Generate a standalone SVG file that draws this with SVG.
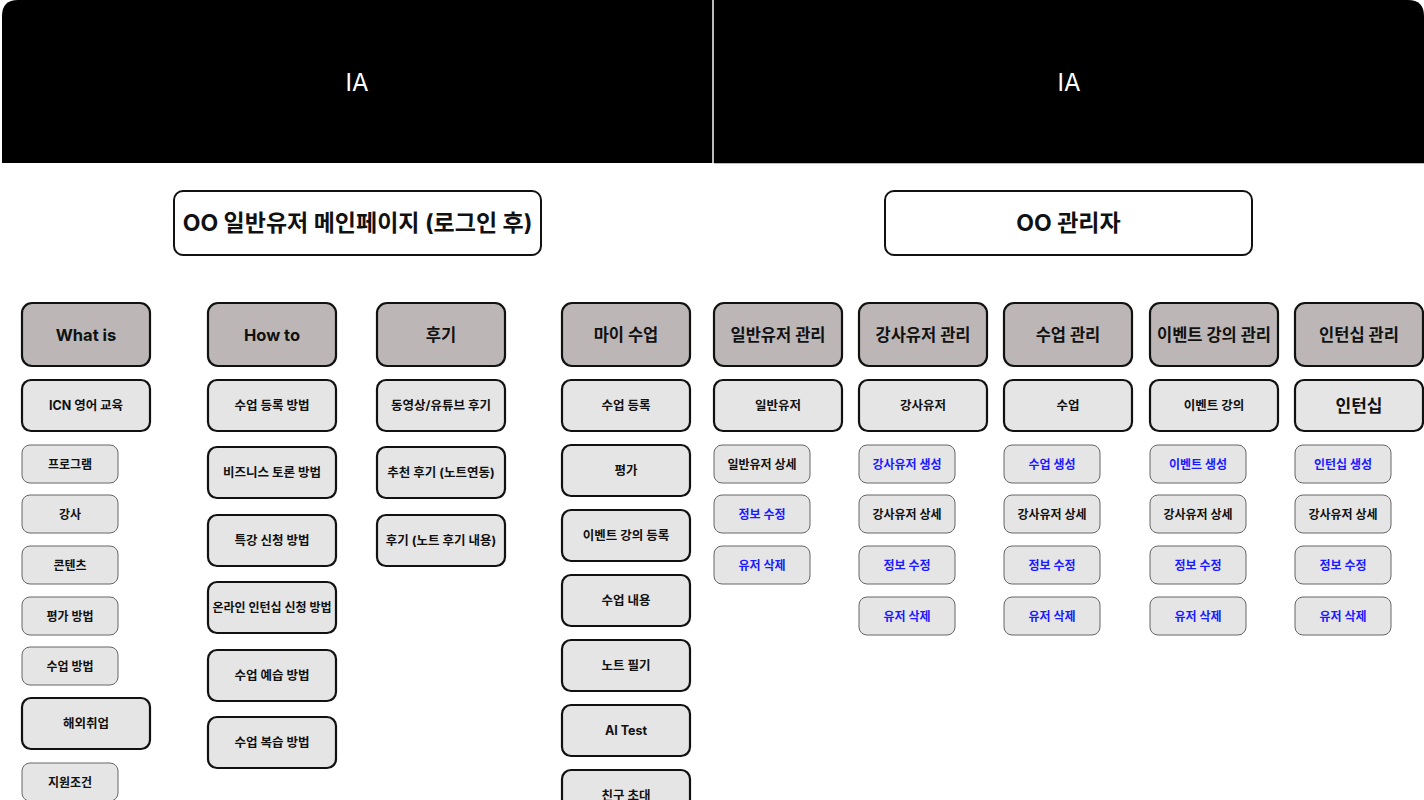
<svg xmlns="http://www.w3.org/2000/svg" width="1424" height="800" viewBox="0 0 1424 800">
<style>
text{font-family:Inter,"Noto Sans CJK KR",sans-serif;font-weight:700;fill:#111;text-anchor:middle;dominant-baseline:central}
.ia{fill:#fff;font-weight:400;font-size:24px}
.title rect{fill:#fff;stroke:#111;stroke-width:2}
.title text{font-size:23px}
.cat rect{fill:#bcb7b6;stroke:#111;stroke-width:2.2}
.cat text{font-size:16.5px}
.sub rect{fill:#e5e5e5;stroke:#111;stroke-width:2.2}
.sub text{font-size:12.5px}
.leaf rect{fill:#e5e5e5;stroke:#666;stroke-width:1}
.leaf text{font-size:12px}
.blue text{fill:#1a1aff}
</style>
<rect width="1424" height="800" fill="#fff"/>
<g id="header">
<path d="M2 163V16Q2 0 18 0H712V163Z" fill="#000"/>
<path d="M714 0H1408Q1424 0 1424 16V163H714Z" fill="#000"/>
<line x1="713" y1="0" x2="713" y2="163" stroke="#777" stroke-width="1"/>
<line x1="714" y1="163.5" x2="1424" y2="163.5" stroke="#bbb" stroke-width="1"/>
<text class="ia" x="357" y="82">IA</text>
<text class="ia" x="1069" y="82">IA</text>
</g>
<g id="title-user" class="title"><rect x="174" y="191" width="367" height="64" rx="9"/><text x="357.5" y="223">OO 일반유저 메인페이지 (로그인 후)</text></g>
<g id="title-admin" class="title"><rect x="885" y="191" width="367" height="64" rx="9"/><text x="1068.5" y="223">OO 관리자</text></g>
<g id="connectors"></g>
<g id="cat-whatis" class="cat"><rect x="22" y="303" width="128" height="63" rx="10"/><text x="86" y="334.5">What is</text></g>
<g id="cat-howto" class="cat"><rect x="208" y="303" width="128" height="63" rx="10"/><text x="272" y="334.5">How to</text></g>
<g id="cat-review" class="cat"><rect x="377" y="303" width="128" height="63" rx="10"/><text x="441" y="334.5">후기</text></g>
<g id="cat-my" class="cat"><rect x="562" y="303" width="128" height="63" rx="10"/><text x="626" y="334.5">마이 수업</text></g>
<g id="cat-user" class="cat"><rect x="714" y="303" width="128" height="63" rx="10"/><text x="778" y="334.5">일반유저 관리</text></g>
<g id="cat-teacher" class="cat"><rect x="859" y="303" width="128" height="63" rx="10"/><text x="923" y="334.5">강사유저 관리</text></g>
<g id="cat-class" class="cat"><rect x="1004" y="303" width="128" height="63" rx="10"/><text x="1068" y="334.5">수업 관리</text></g>
<g id="cat-event" class="cat"><rect x="1150" y="303" width="128" height="63" rx="10"/><text x="1214" y="334.5">이벤트 강의 관리</text></g>
<g id="cat-intern" class="cat"><rect x="1295" y="303" width="128" height="63" rx="10"/><text x="1359" y="334.5">인턴십 관리</text></g>

<g id="icn" class="sub"><rect x="22" y="380" width="128" height="51" rx="9"/><text x="86" y="405.5">ICN 영어 교육</text></g>
<g id="program" class="leaf"><rect x="22" y="445" width="96" height="38" rx="8"/><text x="70" y="464">프로그램</text></g>
<g id="teacher" class="leaf"><rect x="22" y="495" width="96" height="38" rx="8"/><text x="70" y="514">강사</text></g>
<g id="contents" class="leaf"><rect x="22" y="546" width="96" height="38" rx="8"/><text x="70" y="565">콘텐츠</text></g>
<g id="eval-method" class="leaf"><rect x="22" y="597" width="96" height="38" rx="8"/><text x="70" y="616">평가 방법</text></g>
<g id="class-method" class="leaf"><rect x="22" y="647" width="96" height="38" rx="8"/><text x="70" y="666">수업 방법</text></g>
<g id="overseas" class="sub"><rect x="22" y="698" width="128" height="51" rx="9"/><text x="86" y="723.5">해외취업</text></g>
<g id="condition" class="leaf"><rect x="22" y="763" width="96" height="38" rx="8"/><text x="70" y="782">지원조건</text></g>

<g id="how1" class="sub"><rect x="208" y="380" width="128" height="51" rx="9"/><text x="272" y="405.5">수업 등록 방법</text></g>
<g id="how2" class="sub"><rect x="208" y="447" width="128" height="51" rx="9"/><text x="272" y="472.5">비즈니스 토론 방법</text></g>
<g id="how3" class="sub"><rect x="208" y="515" width="128" height="51" rx="9"/><text x="272" y="540.5">특강 신청 방법</text></g>
<g id="how4" class="sub"><rect x="208" y="582" width="128" height="51" rx="9"/><text x="272" y="607.5" style="font-size:12px">온라인 인턴십 신청 방법</text></g>
<g id="how5" class="sub"><rect x="208" y="650" width="128" height="51" rx="9"/><text x="272" y="675.5">수업 예습 방법</text></g>
<g id="how6" class="sub"><rect x="208" y="717" width="128" height="51" rx="9"/><text x="272" y="742.5">수업 복습 방법</text></g>

<g id="rev1" class="sub"><rect x="377" y="380" width="128" height="51" rx="9"/><text x="441" y="405.5">동영상/유튜브 후기</text></g>
<g id="rev2" class="sub"><rect x="377" y="447" width="128" height="51" rx="9"/><text x="441" y="472.5">추천 후기 (노트연동)</text></g>
<g id="rev3" class="sub"><rect x="377" y="515" width="128" height="51" rx="9"/><text x="441" y="540.5">후기 (노트 후기 내용)</text></g>

<g id="my1" class="sub"><rect x="562" y="380" width="128" height="51" rx="9"/><text x="626" y="405.5">수업 등록</text></g>
<g id="my2" class="sub"><rect x="562" y="445" width="128" height="51" rx="9"/><text x="626" y="470.5">평가</text></g>
<g id="my3" class="sub"><rect x="562" y="510" width="128" height="51" rx="9"/><text x="626" y="535.5">이벤트 강의 등록</text></g>
<g id="my4" class="sub"><rect x="562" y="575" width="128" height="51" rx="9"/><text x="626" y="600.5">수업 내용</text></g>
<g id="my5" class="sub"><rect x="562" y="640" width="128" height="51" rx="9"/><text x="626" y="665.5">노트 필기</text></g>
<g id="my6" class="sub"><rect x="562" y="705" width="128" height="51" rx="9"/><text x="626" y="730.5">AI Test</text></g>
<g id="my7" class="sub"><rect x="562" y="770" width="128" height="51" rx="9"/><text x="626" y="795.5">친구 초대</text></g>

<g id="user-sub" class="sub"><rect x="714" y="380" width="128" height="51" rx="9"/><text x="778" y="405.5">일반유저</text></g>
<g id="user-detail" class="leaf"><rect x="714" y="445" width="96" height="38" rx="8"/><text x="762" y="464">일반유저 상세</text></g>
<g id="user-edit" class="leaf blue"><rect x="714" y="495" width="96" height="38" rx="8"/><text x="762" y="514">정보 수정</text></g>
<g id="user-del" class="leaf blue"><rect x="714" y="546" width="96" height="38" rx="8"/><text x="762" y="565">유저 삭제</text></g>

<g id="teacher-sub" class="sub"><rect x="859" y="380" width="128" height="51" rx="9"/><text x="923" y="405.5">강사유저</text></g>
<g id="teacher-create" class="leaf blue"><rect x="859" y="445" width="96" height="38" rx="8"/><text x="907" y="464">강사유저 생성</text></g>
<g id="teacher-detail" class="leaf"><rect x="859" y="495" width="96" height="38" rx="8"/><text x="907" y="514">강사유저 상세</text></g>
<g id="teacher-edit" class="leaf blue"><rect x="859" y="546" width="96" height="38" rx="8"/><text x="907" y="565">정보 수정</text></g>
<g id="teacher-del" class="leaf blue"><rect x="859" y="597" width="96" height="38" rx="8"/><text x="907" y="616">유저 삭제</text></g>

<g id="class-sub" class="sub"><rect x="1004" y="380" width="128" height="51" rx="9"/><text x="1068" y="405.5">수업</text></g>
<g id="class-create" class="leaf blue"><rect x="1004" y="445" width="96" height="38" rx="8"/><text x="1052" y="464">수업 생성</text></g>
<g id="class-detail" class="leaf"><rect x="1004" y="495" width="96" height="38" rx="8"/><text x="1052" y="514">강사유저 상세</text></g>
<g id="class-edit" class="leaf blue"><rect x="1004" y="546" width="96" height="38" rx="8"/><text x="1052" y="565">정보 수정</text></g>
<g id="class-del" class="leaf blue"><rect x="1004" y="597" width="96" height="38" rx="8"/><text x="1052" y="616">유저 삭제</text></g>

<g id="event-sub" class="sub"><rect x="1150" y="380" width="128" height="51" rx="9"/><text x="1214" y="405.5">이벤트 강의</text></g>
<g id="event-create" class="leaf blue"><rect x="1150" y="445" width="96" height="38" rx="8"/><text x="1198" y="464">이벤트 생성</text></g>
<g id="event-detail" class="leaf"><rect x="1150" y="495" width="96" height="38" rx="8"/><text x="1198" y="514">강사유저 상세</text></g>
<g id="event-edit" class="leaf blue"><rect x="1150" y="546" width="96" height="38" rx="8"/><text x="1198" y="565">정보 수정</text></g>
<g id="event-del" class="leaf blue"><rect x="1150" y="597" width="96" height="38" rx="8"/><text x="1198" y="616">유저 삭제</text></g>

<g id="intern-sub" class="sub"><rect x="1295" y="380" width="128" height="51" rx="9"/><text x="1359" y="405.5" style="font-size:17px">인턴십</text></g>
<g id="intern-create" class="leaf blue"><rect x="1295" y="445" width="96" height="38" rx="8"/><text x="1343" y="464">인턴십 생성</text></g>
<g id="intern-detail" class="leaf"><rect x="1295" y="495" width="96" height="38" rx="8"/><text x="1343" y="514">강사유저 상세</text></g>
<g id="intern-edit" class="leaf blue"><rect x="1295" y="546" width="96" height="38" rx="8"/><text x="1343" y="565">정보 수정</text></g>
<g id="intern-del" class="leaf blue"><rect x="1295" y="597" width="96" height="38" rx="8"/><text x="1343" y="616">유저 삭제</text></g>
</svg>
